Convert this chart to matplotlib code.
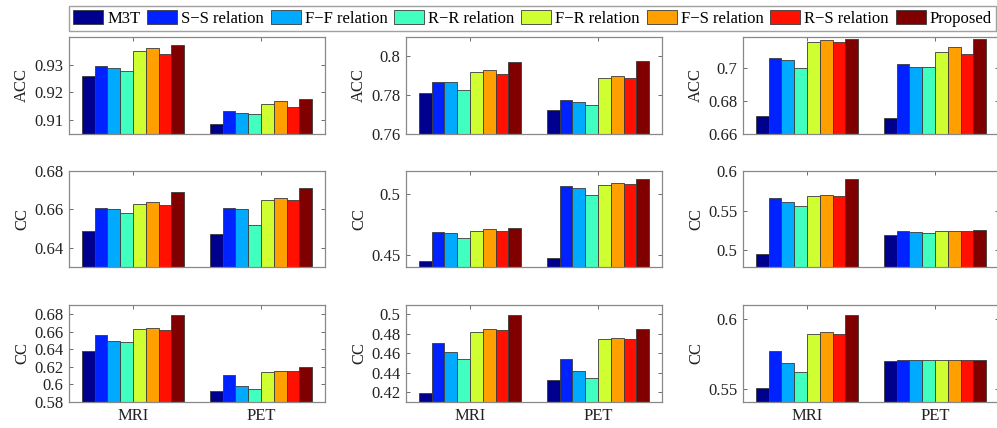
import matplotlib
matplotlib.use("Agg")
import matplotlib.pyplot as plt
from matplotlib.ticker import FuncFormatter
import numpy as np

plt.rcParams['font.family'] = ['Liberation Serif', 'DejaVu Serif']

methods = ["M3T", "S\u2212S relation", "F\u2212F relation", "R\u2212R relation",
           "F\u2212R relation", "F\u2212S relation", "R\u2212S relation", "Proposed"]
colors = ["#00008F", "#0022FF", "#00AAFF", "#40FFBF", "#CFFF30", "#FF9F00", "#FF1000", "#800000"]
groups = ["MRI", "PET"]

# each panel: [MRI values], [PET values]
acc_1 = [[0.9260, 0.9296, 0.9287, 0.9276, 0.9351, 0.9361, 0.9340, 0.9371],
         [0.9087, 0.9133, 0.9124, 0.9122, 0.9160, 0.9168, 0.9148, 0.9178]]
acc_2 = [[0.7812, 0.7869, 0.7867, 0.7829, 0.7918, 0.7930, 0.7911, 0.7969],
         [0.7723, 0.7773, 0.7763, 0.7751, 0.7889, 0.7898, 0.7889, 0.7978]]
acc_3 = [[0.6711, 0.7064, 0.7052, 0.7002, 0.7157, 0.7169, 0.7157, 0.7177],
         [0.6697, 0.7023, 0.7010, 0.7010, 0.7097, 0.7128, 0.7085, 0.7177]]
cc1_1 = [[0.6490, 0.6609, 0.6600, 0.6581, 0.6630, 0.6640, 0.6621, 0.6690],
         [0.6470, 0.6609, 0.6600, 0.6520, 0.6650, 0.6659, 0.6650, 0.6710]]
cc1_2 = [[0.4448, 0.4690, 0.4676, 0.4637, 0.4698, 0.4709, 0.4698, 0.4717],
         [0.4470, 0.5066, 0.5049, 0.4995, 0.5077, 0.5088, 0.5080, 0.5126]]
cc1_3 = [[0.4958, 0.5665, 0.5614, 0.5555, 0.5682, 0.5703, 0.5690, 0.5903],
         [0.5199, 0.5246, 0.5237, 0.5216, 0.5250, 0.5250, 0.5250, 0.5259]]
cc2_1 = [[0.6385, 0.6560, 0.6498, 0.6483, 0.6633, 0.6648, 0.6621, 0.6796],
         [0.5923, 0.6108, 0.5977, 0.5950, 0.6146, 0.6158, 0.6158, 0.6200]]
cc2_2 = [[0.4197, 0.4705, 0.4612, 0.4543, 0.4822, 0.4850, 0.4843, 0.4997],
         [0.4324, 0.4543, 0.4417, 0.4348, 0.4748, 0.4760, 0.4748, 0.4845]]
cc2_3 = [[0.5502, 0.5768, 0.5682, 0.5620, 0.5888, 0.5907, 0.5888, 0.6029],
         [0.5699, 0.5701, 0.5701, 0.5701, 0.5701, 0.5701, 0.5701, 0.5703]]

panels = [
    [(acc_1, "ACC", (0.905, 0.940), [0.91, 0.92, 0.93]),
     (acc_2, "ACC", (0.76, 0.81), [0.76, 0.78, 0.80]),
     (acc_3, "ACC", (0.66, 0.719), [0.66, 0.68, 0.70])],
    [(cc1_1, "CC", (0.63, 0.68), [0.64, 0.66, 0.68]),
     (cc1_2, "CC", (0.44, 0.519), [0.45, 0.50]),
     (cc1_3, "CC", (0.479, 0.60), [0.50, 0.55, 0.60])],
    [(cc2_1, "CC", (0.58, 0.6905), [0.58, 0.60, 0.62, 0.64, 0.66, 0.68]),
     (cc2_2, "CC", (0.41, 0.5096), [0.42, 0.44, 0.46, 0.48, 0.50]),
     (cc2_3, "CC", (0.5404, 0.6098), [0.55, 0.60])],
]

W, H = 997, 428
fig = plt.figure(figsize=(W / 100, H / 100), dpi=100)

col_left = [69, 406, 743]
ax_w = 256
rows_tb = [(37, 134), (171, 267), (305, 402)]

fmt = FuncFormatter(lambda v, p: ("%.4f" % v).rstrip("0").rstrip("."))
nb = len(methods)
bw = 0.1
xg = np.arange(1, len(groups) + 1)
handles = None
for r in range(3):
    for c in range(3):
        data, ylab, ylim, yt = panels[r][c]
        top, bot = rows_tb[r]
        ax = fig.add_axes([col_left[c] / W, 1 - bot / H, ax_w / W, (bot - top) / H])
        hs = []
        for i in range(nb):
            vals = [data[g][i] for g in range(len(groups))]
            b = ax.bar(xg + (i - (nb - 1) / 2) * bw, vals, width=bw, color=colors[i],
                       edgecolor="#3a3a3a", linewidth=0.6, label=methods[i], zorder=2)
            hs.append(b)
        handles = hs
        ax.set_xlim(0.5, 2.5)
        ax.set_ylim(*ylim)
        ax.set_yticks(yt)
        ax.yaxis.set_major_formatter(fmt)
        ax.set_xticks(xg)
        if r == 2:
            ax.set_xticklabels(groups)
        else:
            ax.set_xticklabels([])
        ax.tick_params(direction="in", top=True, right=True, length=3, width=0.6,
                       colors="#555555", labelcolor="#222222", labelsize=12, pad=4)
        for s in ax.spines.values():
            s.set_color("#888888")
            s.set_linewidth(0.9)
        ax.set_ylabel(ylab, fontsize=12, color="#222222", labelpad=3)

fig.legend(handles, methods, loc="upper right", bbox_to_anchor=(0.999, 1 - 6 / H),
           ncol=nb, fontsize=12, frameon=True, fancybox=False, edgecolor="#888888",
           handlelength=1.8, handleheight=0.9, handletextpad=0.25, columnspacing=0.4,
           borderpad=0.25, borderaxespad=0.0)

fig.savefig("out.png", dpi=100)
